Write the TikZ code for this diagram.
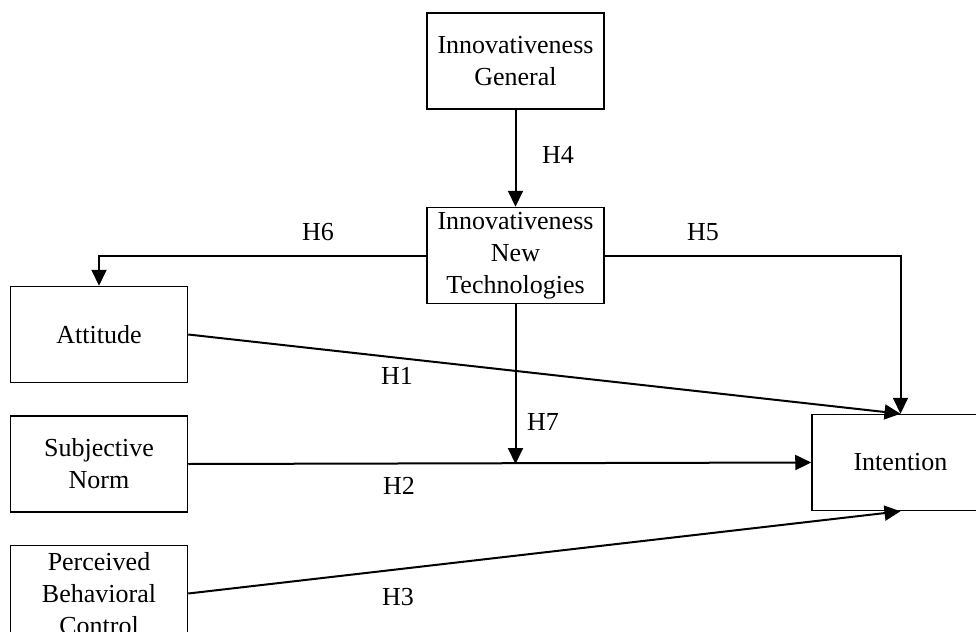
\documentclass[tikz,border=0pt]{standalone}
\usepackage{fontspec}
\setmainfont{Liberation Serif}
\usepackage{tikz}
\usetikzlibrary{arrows.meta,positioning}
\tikzset{
  constbox/.style={draw=black,line width=0.75pt,align=center,minimum width=88.5pt,minimum height=48pt,inner sep=2pt,font=\fontsize{13}{16}\selectfont,fill=white},
  hyparrow/.style={-{Triangle[length=8pt,width=7.5pt]},line width=1pt,draw=black},
  hyplabel/.style={inner sep=0pt,font=\fontsize{13}{16}\selectfont}
}
\begin{document}
\begin{tikzpicture}[x=0.5pt,y=-0.5pt,node distance=16pt]
\useasboundingbox[fill=white] (0,0) rectangle (976,632);
\node[constbox] (gen) at (515.5,61) {Innovativeness\\General};
\node[constbox,below=48.5pt of gen] (inn) {Innovativeness\\New\\Technologies};
\node[constbox] (att) at (99,334.5) {Attitude};
\node[constbox,below=of att] (sn) {Subjective\\Norm};
\node[constbox,below=of sn] (pbc) {Perceived\\Behavioral\\Control};
\node[constbox] (int) at (900.5,462.5) {Intention};
\coordinate (h7end) at (inn.south |- sn.east);
% hypotheses
\draw[hyparrow] (gen) -- (inn);
\draw[hyparrow] (inn.west) -| (att.north);
\draw[hyparrow] (inn.east) -| (int.north);
\draw[hyparrow] (att.east) -- (int.north);
\draw[hyparrow] (sn.east) -- (int.west);
\draw[hyparrow] (pbc.east) -- (int.south);
\draw[hyparrow] (inn.south) -- (h7end);
% labels
\node[hyplabel] (l1) at (397,376) {H1};
\node[hyplabel] (l2) at (399,486) {H2};
\node[hyplabel] (l3) at (398,597) {H3};
\node[hyplabel] (l4) at (558,155) {H4};
\node[hyplabel] (l5) at (703,232) {H5};
\node[hyplabel] (l6) at (318,232) {H6};
\node[hyplabel] (l7) at (543,422) {H7};
\end{tikzpicture}
\end{document}
